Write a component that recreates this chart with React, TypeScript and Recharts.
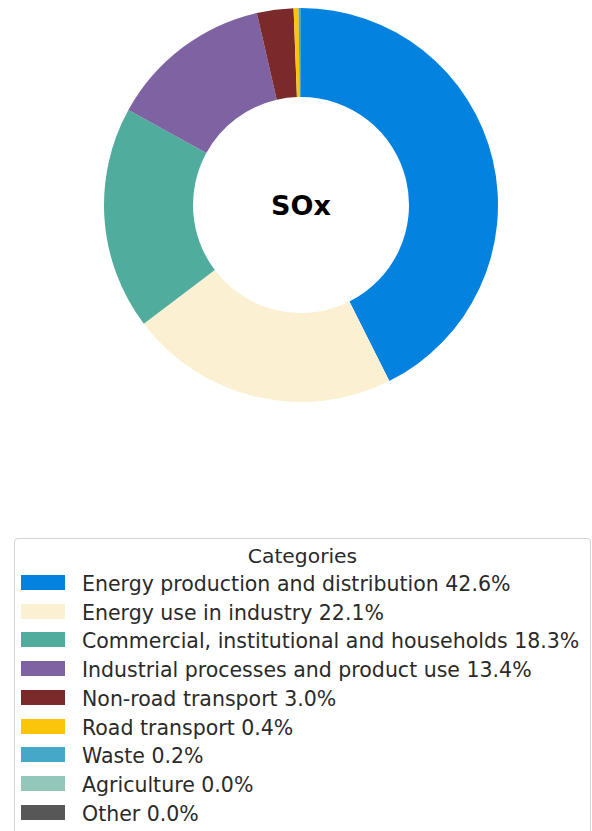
import React from "react";
import { PieChart, Pie, Cell } from "recharts";

const categories = [
  "Energy production and distribution",
  "Energy use in industry",
  "Commercial, institutional and households",
  "Industrial processes and product use",
  "Non-road transport",
  "Road transport",
  "Waste",
  "Agriculture",
  "Other",
];
const shares = [42.6, 22.1, 18.3, 13.4, 3.0, 0.4, 0.2, 0.0, 0.0];
const colors = [
  "#0382e0",
  "#fcf0d2",
  "#50ad9e",
  "#7f62a2",
  "#7a2a2a",
  "#fbc50c",
  "#46a8c8",
  "#93c7bc",
  "#575757",
];
const title = "SOx";
const legendTitle = "Categories";

const data = categories.map((name, i) => ({ name, value: shares[i] }));

const font = "'DejaVu Sans', sans-serif";

const LegendBox = () => (
  <div
    style={{
      position: "absolute",
      left: 14,
      top: 538,
      width: 577,
      height: 300,
      border: "1px solid #d4d4d4",
      borderRadius: 4,
      boxSizing: "border-box",
      fontFamily: font,
      color: "#2a2a2a",
      background: "#fff",
    }}
  >
    <div style={{ textAlign: "center", fontSize: 20.3, marginTop: 5, height: 24, lineHeight: "24px" }}>
      {legendTitle}
    </div>
    {data.map((d, i) => (
      <div key={d.name} style={{ display: "flex", alignItems: "center", height: 28.75 }}>
        <div
          style={{
            marginLeft: 6,
            width: 44,
            height: 15,
            background: colors[i],
            flexShrink: 0,
          }}
        />
        <div
          style={{
            marginLeft: 17,
            fontSize: 20.5,
            whiteSpace: "nowrap",
            lineHeight: "24px",
            position: "relative",
            top: 1.5,
          }}
        >
          {d.name} {d.value.toFixed(1)}%
        </div>
      </div>
    ))}
  </div>
);

const CenterTitle = ({ cx, cy }: { cx: number; cy: number }) => (
  <text
    x={cx}
    y={cy}
    textAnchor="middle"
    dominantBaseline="central"
    style={{ fontFamily: font, fontSize: 27, fontWeight: "bold", fill: "#000" }}
  >
    {title}
  </text>
);

export default function App() {
  return (
    <div style={{ position: "absolute", left: 0, top: 0, width: 592, height: 831, background: "#fff", overflow: "hidden" }}>
      <svg width={592} height={420} style={{ position: "absolute", left: 0, top: 0, pointerEvents: "none", zIndex: 2 }}>
        <CenterTitle cx={301} cy={205} />
      </svg>
      <PieChart width={592} height={420} margin={{ top: 0, right: 0, bottom: 0, left: 0 }}>
        <Pie
          data={data}
          dataKey="value"
          nameKey="name"
          cx={301}
          cy={205}
          innerRadius={108}
          outerRadius={197}
          startAngle={90}
          endAngle={-270}
          stroke="none"
          isAnimationActive={false}
        >
          {data.map((d, i) => (
            <Cell key={d.name} fill={colors[i]} />
          ))}
        </Pie>
      </PieChart>
      <LegendBox />
    </div>
  );
}
